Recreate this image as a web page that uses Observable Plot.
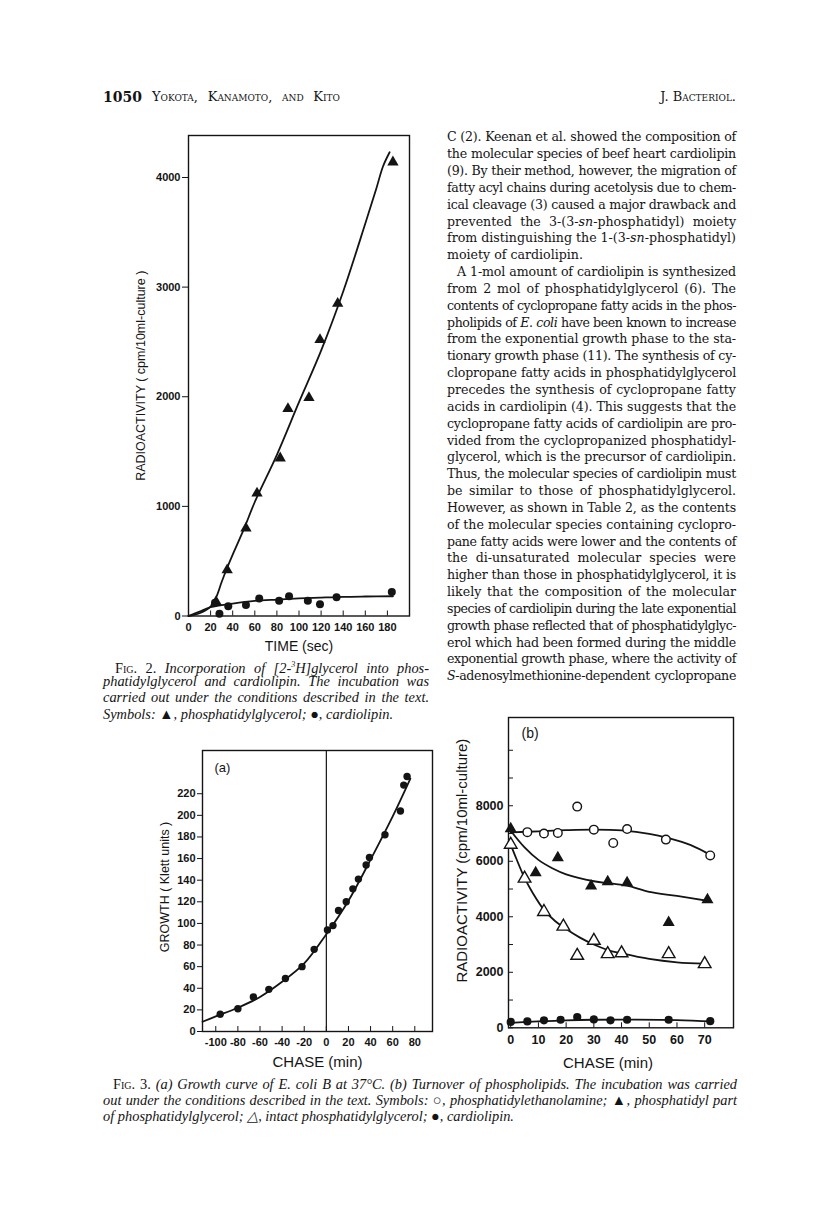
<!DOCTYPE html>
<html>
<head>
<meta charset="utf-8">
<script src="https://cdn.jsdelivr.net/npm/d3@7"></script>
<script src="https://cdn.jsdelivr.net/npm/@observablehq/plot@0.6"></script>
<style>
  body { margin: 0; background: #fff; }
  #page { position: relative; width: 816px; height: 1228px; overflow: hidden; background: #fff;
          font-family: "DejaVu Serif", "Liberation Serif", serif; color: #141414; }
  .abs { position: absolute; }
  .ln { white-space: nowrap; text-align: justify; text-align-last: justify; }
  .ln.end { text-align-last: left; }
  .sc { font-variant: small-caps; font-style: normal; }
  .cap { font-family: "Liberation Serif", "Times New Roman", serif; font-style: italic; }
  .chart { position: absolute; }
  .chart svg { overflow: visible; }
</style>
</head>
<body>
<div id="page"></div>
<script>
// ---------------- DATA ----------------
// Fig. 2: incorporation of [2-3H]glycerol (time in sec, cpm/10ml culture)
const fig2PgTime = [25, 35, 52, 62, 83, 90, 109, 119, 135, 185];
const fig2PgCpm  = [130, 420, 800, 1120, 1440, 1890, 1990, 2520, 2850, 4140];
const fig2ClTime = [24, 28, 36, 52, 64, 82, 91, 108, 119, 134, 184];
const fig2ClCpm  = [120, 20, 90, 100, 160, 140, 180, 140, 107, 170, 220];
const fig2PgFitTime = [0, 10, 20, 25, 30, 35, 40, 50, 60, 80, 100, 120, 140, 160, 170, 176, 182];
const fig2PgFitCpm  = [0, 25, 85, 170, 310, 440, 560, 790, 1040, 1470, 1950, 2420, 2960, 3580, 3900, 4100, 4230];
const fig2ClFitTime = [0, 10, 20, 40, 60, 80, 100, 120, 140, 160, 185];
const fig2ClFitCpm  = [0, 40, 80, 113, 138, 150, 160, 168, 175, 178, 180];
const fig2XTicks = [0, 20, 40, 60, 80, 100, 120, 140, 160, 180];
const fig2YTicks = [0, 1000, 2000, 3000, 4000];
const fig2XLabel = "TIME (sec)";
const fig2YLabel = "RADIOACTIVITY ( cpm/10ml-culture )";

// Fig. 3a: growth curve (chase min, Klett units)
const fig3aChase  = [-96, -80, -66, -52, -37, -22, -11, 1, 6, 11, 18, 24, 29, 36, 39, 53, 67, 70, 73];
const fig3aGrowth = [16, 21, 32, 39, 49, 60, 76, 94, 98, 112, 120, 132, 141, 154, 161, 182, 204, 228, 236];
const fig3aFitChase  = [-112, -100, -80, -60, -40, -20, 0, 20, 40, 60, 76];
const fig3aFitGrowth = [9, 14, 22, 32, 46, 63, 90, 121, 159, 199, 234];
const fig3aChaseStart = [0];
const fig3aXTicks = [-100, -80, -60, -40, -20, 0, 20, 40, 60, 80];
const fig3aYTicks = [0, 20, 40, 60, 80, 100, 120, 140, 160, 180, 200, 220];
const fig3aXLabel = "CHASE (min)";
const fig3aYLabel = "GROWTH ( Klett units )";
const fig3aTag = "(a)";

// Fig. 3b: turnover of phospholipids (chase min, cpm/10ml culture)
const peTime = [6, 12, 17, 24, 30, 37, 42, 56, 72];
const peCpm  = [7050, 7000, 7020, 7970, 7140, 6660, 7160, 6780, 6210];
const pgPartTime = [0, 9, 17, 29, 35, 42, 57, 71];
const pgPartCpm  = [7170, 5590, 6130, 5110, 5260, 5230, 3790, 4610];
const pgIntactTime = [0, 5, 12, 19, 24, 30, 35, 40, 57, 70];
const pgIntactCpm  = [6600, 5380, 4180, 3650, 2600, 3140, 2660, 2690, 2660, 2300];
const clTime = [0, 6, 12, 18, 24, 30, 36, 42, 57, 72];
const clCpm  = [210, 230, 270, 290, 390, 300, 270, 290, 290, 240];
const peFitTime = [0, 10, 20, 30, 40, 50, 57, 65, 72];
const peFitCpm  = [7040, 7080, 7120, 7140, 7110, 6990, 6830, 6580, 6230];
const pgPartFitTime = [0, 5, 10, 15, 20, 30, 36, 42, 50, 60, 72];
const pgPartFitCpm  = [7100, 6500, 6050, 5750, 5530, 5280, 5200, 5120, 4900, 4750, 4560];
const pgIntactFitTime = [0, 2, 5, 8, 12, 16, 20, 25, 30, 35, 40, 50, 60, 70];
const pgIntactFitCpm  = [6600, 6100, 5400, 4850, 4250, 3850, 3560, 3250, 3000, 2800, 2680, 2480, 2360, 2310];
const clFitTime = [0, 10, 20, 30, 45, 60, 73];
const clFitCpm  = [180, 230, 270, 290, 295, 280, 230];
const fig3bXTicks = [0, 10, 20, 30, 40, 50, 60, 70];
const fig3bYTicks = [0, 2000, 4000, 6000, 8000];
const fig3bYMinor = [0, 1000, 2000, 3000, 4000, 5000, 6000, 7000, 8000, 9000, 10000];
const fig3bXLabel = "CHASE (min)";
const fig3bYLabel = "RADIOACTIVITY (cpm/10ml-culture)";
const fig3bTag = "(b)";

// ---------------- TEXT ----------------
const headerLeftNum = "1050";
const headerLeftNames = "Yokota, Kanamoto, and Kito";
const headerRight = "J. Bacteriol.";
const bodyLines = [
  ["C (2). Keenan et al. showed the composition of", ""],
  ["the molecular species of beef heart cardiolipin", ""],
  ["(9). By their method, however, the migration of", ""],
  ["fatty acyl chains during acetolysis due to chem-", ""],
  ["ical cleavage (3) caused a major drawback and", ""],
  ["prevented the 3-(3-<i>sn</i>-phosphatidyl) moiety", ""],
  ["from distinguishing the 1-(3-<i>sn</i>-phosphatidyl)", ""],
  ["moiety of cardiolipin.", "end"],
  ["A 1-mol amount of cardiolipin is synthesized", "ind"],
  ["from 2 mol of phosphatidylglycerol (6). The", ""],
  ["contents of cyclopropane fatty acids in the phos-", ""],
  ["pholipids of <i>E. coli</i> have been known to increase", ""],
  ["from the exponential growth phase to the sta-", ""],
  ["tionary growth phase (11). The synthesis of cy-", ""],
  ["clopropane fatty acids in phosphatidylglycerol", ""],
  ["precedes the synthesis of cyclopropane fatty", ""],
  ["acids in cardiolipin (4). This suggests that the", ""],
  ["cyclopropane fatty acids of cardiolipin are pro-", ""],
  ["vided from the cyclopropanized phosphatidyl-", ""],
  ["glycerol, which is the precursor of cardiolipin.", ""],
  ["Thus, the molecular species of cardiolipin must", ""],
  ["be similar to those of phosphatidylglycerol.", ""],
  ["However, as shown in Table 2, as the contents", ""],
  ["of the molecular species containing cyclopro-", ""],
  ["pane fatty acids were lower and the contents of", ""],
  ["the di-unsaturated molecular species were", ""],
  ["higher than those in phosphatidylglycerol, it is", ""],
  ["likely that the composition of the molecular", ""],
  ["species of cardiolipin during the late exponential", ""],
  ["growth phase reflected that of phosphatidylglyc-", ""],
  ["erol which had been formed during the middle", ""],
  ["exponential growth phase, where the activity of", ""],
  ["<i>S</i>-adenosylmethionine-dependent cyclopropane", ""]
];
const fig2Caption = [
  ["<span class='sc'>Fig.</span><span style='font-style:normal'> 2.</span> Incorporation of [2-<sup style='font-size:8px'>3</sup>H]glycerol into phos-", "ind"],
  ["phatidylglycerol and cardiolipin. The incubation was", ""],
  ["carried out under the conditions described in the text.", ""],
  ["Symbols: \u25B2, phosphatidylglycerol; \u25CF, cardiolipin.", "end"]
];
const fig3Caption = [
  ["<span class='sc'>Fig.</span><span style='font-style:normal'> 3.</span> (a) Growth curve of E. coli B at 37\u00B0C. (b) Turnover of phospholipids. The incubation was carried", "ind"],
  ["out under the conditions described in the text. Symbols: \u25CB, phosphatidylethanolamine; \u25B2, phosphatidyl part", ""],
  ["of phosphatidylglycerol; \u25B3, intact phosphatidylglycerol; \u25CF, cardiolipin.", "end"]
];

// ---------------- LAYOUT HELPERS ----------------
const page = document.getElementById("page");
function addDiv(html, css) {
  const d = document.createElement("div");
  d.className = "abs";
  d.innerHTML = html;
  Object.assign(d.style, css);
  page.appendChild(d);
  return d;
}
// squeeze a line with letter-spacing if its natural width exceeds the column
function fit(d, width) {
  const probe = document.createElement("span");
  probe.innerHTML = d.innerHTML;
  const cs = getComputedStyle(d);
  probe.style.cssText = "position:absolute;visibility:hidden;white-space:nowrap;left:0;top:0;";
  probe.style.fontFamily = cs.fontFamily;
  probe.style.fontSize = cs.fontSize;
  probe.style.fontStyle = cs.fontStyle;
  probe.style.fontWeight = cs.fontWeight;
  probe.style.fontVariant = cs.fontVariant;
  page.appendChild(probe);
  const w = probe.getBoundingClientRect().width;
  probe.remove();
  if (w > width) {
    const n = d.textContent.length;
    d.style.letterSpacing = (-(w - width + 1) / n).toFixed(3) + "px";
  }
}
function addLines(lines, left, width, top0, step, fontSize, cls, indent) {
  lines.forEach(([txt, kind], i) => {
    const ind = kind === "ind" ? indent : 0;
    const d = addDiv(txt, {
      left: (left + ind) + "px",
      width: (width - ind) + "px",
      top: (top0 + i * step) + "px",
      height: step + "px",
      lineHeight: step + "px",
      fontSize: fontSize + "px"
    });
    d.classList.add("ln");
    if (cls) d.classList.add(cls);
    if (kind === "end") d.classList.add("end");
    fit(d, width - ind);
  });
}

// header
addDiv("<b>" + headerLeftNum + "</b>", {left: "103px", top: "88px", fontSize: "14px", lineHeight: "18px"});
const hn = addDiv(headerLeftNames, {left: "152px", width: "188px", top: "88px", fontSize: "13px", lineHeight: "18px", fontVariant: "small-caps"});
hn.classList.add("ln"); fit(hn, 188);
addDiv(headerRight, {left: "600px", width: "136px", textAlign: "right", top: "88px", fontSize: "13px", lineHeight: "18px", fontVariant: "small-caps"});

// body column
addLines(bodyLines, 447, 289, 129.4, 16.84, 12.6, "", 10);
// captions
addLines(fig2Caption, 103, 326, 656.5, 16.4, 14.4, "cap", 12);
addLines(fig3Caption, 103, 634, 1076, 16, 14.4, "cap", 10);

// ---------------- CHARTS ----------------
const ink = "#141414";
const sans = '"Liberation Sans", Arial, sans-serif';
const axisStyle = size => ({fontFamily: sans, fontSize: size + "px", color: ink, background: "transparent", overflow: "visible"});
const fmt = d => String(d);
const rows = (xs, ys) => xs.map((x, i) => ({x, y: ys[i]}));
function place(svg, left, top) {
  const wrap = document.createElement("div");
  wrap.className = "chart";
  wrap.style.left = left + "px";
  wrap.style.top = top + "px";
  wrap.appendChild(svg);
  page.appendChild(wrap);
}
function yLabel(text, dx, dy, size) {
  return Plot.text([text], {text: d => d, frameAnchor: "left", rotate: -90, textAnchor: "middle", lineAnchor: "middle", dx, dy, fontSize: size, fill: ink});
}
function xLabel(text, dx, dy, size, spacing) {
  return Plot.text([text], {text: d => d, frameAnchor: "bottom", textAnchor: "middle", lineAnchor: "middle", dx, dy, fontSize: size, fill: ink, letterSpacing: spacing + "px"});
}

// Fig 2
place(Plot.plot({
  width: 320, height: 540,
  marginLeft: 78, marginRight: 21, marginTop: 15, marginBottom: 44.5,
  style: axisStyle(11),
  x: {domain: [0, 200]},
  y: {domain: [0, 4383]},
  marks: [
    Plot.frame({stroke: ink, strokeWidth: 1.4}),
    Plot.axisY({ticks: fig2YTicks, tickSize: 6, tickPadding: 2, tickFormat: fmt, label: null, stroke: ink, fontWeight: "bold"}),
    Plot.axisX({ticks: fig2XTicks, tickSize: -5, tickPadding: 12, tickFormat: fmt, label: null, stroke: ink, fontWeight: "bold"}),
    Plot.line(rows(fig2PgFitTime, fig2PgFitCpm), {x: "x", y: "y", curve: "catmull-rom", stroke: ink, strokeWidth: 1.8}),
    Plot.line(rows(fig2ClFitTime, fig2ClFitCpm), {x: "x", y: "y", curve: "catmull-rom", stroke: ink, strokeWidth: 1.8}),
    Plot.dot(rows(fig2PgTime, fig2PgCpm), {x: "x", y: "y", symbol: "triangle", r: 4.2, fill: ink}),
    Plot.dot(rows(fig2ClTime, fig2ClCpm), {x: "x", y: "y", symbol: "circle", r: 4, fill: ink}),
    yLabel(fig2YLabel, -48, 0, 12.5),
    xLabel(fig2XLabel, 0, 31, 14, 2.5)
  ]
}), 110, 120);

// Fig 3a
place(Plot.plot({
  width: 310, height: 335,
  marginLeft: 62, marginRight: 18, marginTop: 10, marginBottom: 44,
  style: axisStyle(11),
  x: {domain: [-112, 96]},
  y: {domain: [0, 260]},
  marks: [
    Plot.frame({stroke: ink, strokeWidth: 1.4}),
    Plot.ruleX(fig3aChaseStart, {x: d => d, stroke: ink, strokeWidth: 1.2}),
    Plot.axisY({ticks: fig3aYTicks, tickSize: 5, tickPadding: 2, tickFormat: fmt, label: null, stroke: ink, fontWeight: "bold"}),
    Plot.axisX({ticks: fig3aXTicks, tickSize: -5, tickPadding: 12, tickFormat: fmt, label: null, stroke: ink, fontWeight: "bold"}),
    Plot.line(rows(fig3aFitChase, fig3aFitGrowth), {x: "x", y: "y", curve: "catmull-rom", stroke: ink, strokeWidth: 1.8}),
    Plot.dot(rows(fig3aChase, fig3aGrowth), {x: "x", y: "y", symbol: "circle", r: 3.7, fill: ink}),
    Plot.text([fig3aTag], {text: d => d, frameAnchor: "top-left", textAnchor: "start", lineAnchor: "middle", dx: 12, dy: 17, fontSize: 13, fill: ink}),
    yLabel(fig3aYLabel, -38, -4, 12.5),
    xLabel(fig3aXLabel, 0, 31, 15, 1.8)
  ]
}), 140, 740);

// Fig 3b
const openStyle = {stroke: ink, strokeWidth: 1.4, fill: "#fff"};
place(Plot.plot({
  width: 310, height: 375,
  marginLeft: 68, marginRight: 17, marginTop: 17, marginBottom: 47.7,
  style: axisStyle(12.5),
  x: {domain: [-0.8, 80.4]},
  y: {domain: [0, 11180]},
  marks: [
    Plot.frame({stroke: ink, strokeWidth: 1.4}),
    Plot.axisY({ticks: fig3bYMinor, tickSize: -5, tickFormat: () => "", label: null, stroke: ink}),
    Plot.axisY({ticks: fig3bYTicks, tickSize: 0, tickPadding: 5, tickFormat: fmt, label: null, fontWeight: "bold"}),
    Plot.axisX({ticks: fig3bXTicks, tickSize: -5, tickPadding: 12, tickFormat: fmt, label: null, stroke: ink, fontWeight: "bold"}),
    Plot.line(rows(peFitTime, peFitCpm), {x: "x", y: "y", curve: "catmull-rom", stroke: ink, strokeWidth: 1.8}),
    Plot.line(rows(pgPartFitTime, pgPartFitCpm), {x: "x", y: "y", curve: "catmull-rom", stroke: ink, strokeWidth: 1.8}),
    Plot.line(rows(pgIntactFitTime, pgIntactFitCpm), {x: "x", y: "y", curve: "catmull-rom", stroke: ink, strokeWidth: 1.8}),
    Plot.line(rows(clFitTime, clFitCpm), {x: "x", y: "y", curve: "catmull-rom", stroke: ink, strokeWidth: 1.8}),
    Plot.dot(rows(peTime, peCpm), {x: "x", y: "y", symbol: "circle", r: 4.3, ...openStyle}),
    Plot.dot(rows(pgIntactTime, pgIntactCpm), {x: "x", y: "y", symbol: "triangle", r: 4.7, ...openStyle}),
    Plot.dot(rows(pgPartTime, pgPartCpm), {x: "x", y: "y", symbol: "triangle", r: 4.5, fill: ink}),
    Plot.dot(rows(clTime, clCpm), {x: "x", y: "y", symbol: "circle", r: 4.1, fill: ink}),
    Plot.text([fig3bTag], {text: d => d, frameAnchor: "top-left", textAnchor: "start", lineAnchor: "middle", dx: 13, dy: 16, fontSize: 14, fill: ink}),
    yLabel(fig3bYLabel, -46, -12, 15),
    xLabel(fig3bXLabel, -13, 35, 15, 1.8)
  ]
}), 440, 700);
</script>
</body>
</html>
